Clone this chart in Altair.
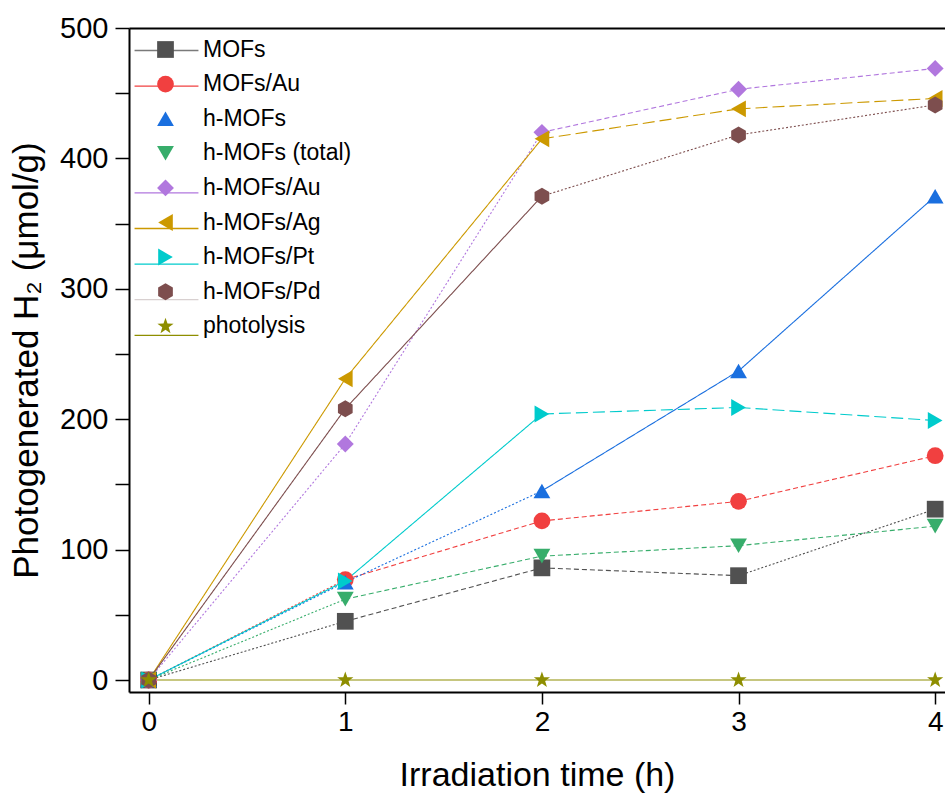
import altair as alt
import pandas as pd

# ---------------- data ----------------
times = [0, 1, 2, 3, 4]
series_names = ["MOFs", "MOFs/Au", "h-MOFs", "h-MOFs (total)", "h-MOFs/Au",
                "h-MOFs/Ag", "h-MOFs/Pt", "h-MOFs/Pd", "photolysis"]
mofs = [0, 45, 86, 80, 131]
mofs_au = [0, 77, 122, 137, 172]
h_mofs = [0, 75, 145, 237, 371]
h_mofs_total = [0, 62, 95, 103, 118]
h_mofs_au = [0, 181, 420, 453, 469]
h_mofs_ag = [0, 231, 415, 438, 446]
h_mofs_pt = [0, 76, 204, 209, 199]
h_mofs_pd = [0, 208, 371, 418, 441]
photolysis = [0, 0, 0, 0, 0]
series_values = [mofs, mofs_au, h_mofs, h_mofs_total, h_mofs_au,
                 h_mofs_ag, h_mofs_pt, h_mofs_pd, photolysis]

# line style of each segment (0-1, 1-2, 2-3, 3-4)
segment_styles = [
    ["dot", "dash", "dash", "dot"],
    ["dot", "dash", "dash", "dash"],
    ["dot", "dot", "solid", "solid"],
    ["dot", "dash", "dash", "dash"],
    ["dot", "dot", "dash", "dash"],
    ["solid", "solid", "longdash", "longdash"],
    ["solid", "solid", "longdash", "longdash"],
    ["solid", "solid", "dot", "dot"],
    ["solid", "solid", "solid", "solid"],
]

colors = ["#515151", "#F14040", "#1A6FDF", "#37AD6B", "#B177DE",
          "#CC9900", "#00CBCC", "#7D4E4E", "#8E8E00"]
# line sample colours shown in the legend (none for h-MOFs and h-MOFs (total))
legend_line_colors = ["#7a7a7a", "#F14040", "rgba(0,0,0,0)", "rgba(0,0,0,0)", "#B177DE",
                      "#CC9900", "#00CBCC", "#d8d0d0", "#8E8E00"]
HEX = "M0,-1L0.866,-0.5L0.866,0.5L0,1L-0.866,0.5L-0.866,-0.5Z"
STAR = ("M0,-1L0.235,-0.324L0.951,-0.309L0.380,0.124L0.588,0.809L0,0.4"
        "L-0.588,0.809L-0.380,0.124L-0.951,-0.309L-0.235,-0.324Z")
shapes = ["square", "circle", "triangle-up", "triangle-down", "diamond",
          "triangle-left", "triangle-right", HEX, STAR]
sizes = [280, 290, 560, 560, 380, 560, 560, 360, 360]

# ---------------- tables ----------------
pts = []
segs = []
for name, vals, styles in zip(series_names, series_values, segment_styles):
    for t, v in zip(times, vals):
        pts.append({"series": name, "t": t, "v": v})
    for i in range(len(times) - 1):
        segs.append({"series_line": name, "legend_line": name, "t": times[i],
                     "t2": times[i + 1], "v": vals[i], "v2": vals[i + 1],
                     "style": styles[i]})
pts_df = pd.DataFrame(pts)
segs_df = pd.DataFrame(segs)

FONT = "Liberation Sans"
LEG_X, LEG_Y, ROW_PAD, LEG_FONT = 25, 10, 10.6, 23

x_bottom = alt.X("t:Q", scale=alt.Scale(domain=[-0.1, 4.05], nice=False, zero=False),
                 axis=alt.Axis(values=times, title="Irradiation time (h)", grid=False,
                               tickSize=12, tickWidth=1.5, domainWidth=2,
                               labelFontSize=28, titleFontSize=34, labelPadding=4,
                               titlePadding=22, labelFlush=False))
y_left = alt.Y("v:Q", scale=alt.Scale(domain=[-9.2, 500], nice=False, zero=False),
               axis=alt.Axis(values=list(range(0, 501, 50)),
                             labelExpr="datum.value % 100 == 0 ? datum.label : ''",
                             title="Photogenerated H₂ (μmol/g)", grid=False,
                             tickSize=14, tickWidth=1.5, domainWidth=2,
                             labelFontSize=29, titleFontSize=35, labelPadding=7,
                             titlePadding=15))

# invisible copy of the segments: only supplies the line samples of the legend
legend_lines = alt.Chart(segs_df).mark_rule(opacity=0).encode(
    x=x_bottom,
    x2="t2:Q",
    y=y_left,
    y2="v2:Q",
    stroke=alt.Stroke("legend_line:N", sort=series_names,
                      scale=alt.Scale(range=legend_line_colors),
                      legend=alt.Legend(orient="none", legendX=LEG_X, legendY=LEG_Y,
                                        title=None, symbolType="M-2.7,0L2.7,0",
                                        symbolSize=560, symbolStrokeWidth=1.3,
                                        symbolOpacity=1, labelExpr="''",
                                        labelFontSize=LEG_FONT, rowPadding=ROW_PAD,
                                        labelOffset=26)),
)

lines = alt.Chart(segs_df).mark_rule(strokeWidth=1.1).encode(
    x=alt.X("t:Q", axis=None),
    x2="t2:Q",
    y=alt.Y("v:Q", axis=None),
    y2="v2:Q",
    stroke=alt.Stroke("series_line:N", scale=alt.Scale(domain=series_names, range=colors),
                      legend=None),
    strokeDash=alt.StrokeDash("style:N",
                              scale=alt.Scale(domain=["solid", "dot", "dash", "longdash"],
                                              range=[[1, 0], [2, 2], [5, 3], [12, 5]]),
                              legend=None),
)

marker_legend = alt.Legend(orient="none", legendX=LEG_X, legendY=LEG_Y, title=None,
                           labelFontSize=LEG_FONT, labelFont=FONT, labelColor="black",
                           rowPadding=ROW_PAD, labelOffset=26, symbolOpacity=1,
                           symbolStrokeWidth=0, zindex=2)

points = alt.Chart(pts_df).mark_point(filled=True, opacity=1, strokeWidth=0).encode(
    x=alt.X("t:Q", axis=alt.Axis(orient="top", labels=False, ticks=False, title=None,
                                 domainWidth=2, grid=False)),
    y=alt.Y("v:Q", axis=None),
    fill=alt.Fill("series:N", scale=alt.Scale(domain=series_names, range=colors),
                  legend=marker_legend),
    shape=alt.Shape("series:N", scale=alt.Scale(domain=series_names, range=shapes),
                    legend=marker_legend),
    size=alt.Size("series:N", scale=alt.Scale(domain=series_names, range=sizes),
                  legend=marker_legend),
)

chart = alt.layer(legend_lines, lines, points).resolve_axis(
    x="independent", y="independent"
).resolve_scale(stroke="independent").resolve_legend(stroke="independent").properties(
    width=816, height=664,
    padding={"left": 129, "top": 28, "right": 0, "bottom": 107},
    autosize=alt.AutoSizeParams(type="none"),
    background="white",
).configure_view(stroke=None).configure_axis(
    labelFont=FONT, titleFont=FONT, labelColor="black", titleColor="black",
    domainColor="black", tickColor="black", titleFontWeight="normal",
).configure_legend(labelFont=FONT)

chart.save("out.html", embed_options={"renderer": "svg", "actions": False})
